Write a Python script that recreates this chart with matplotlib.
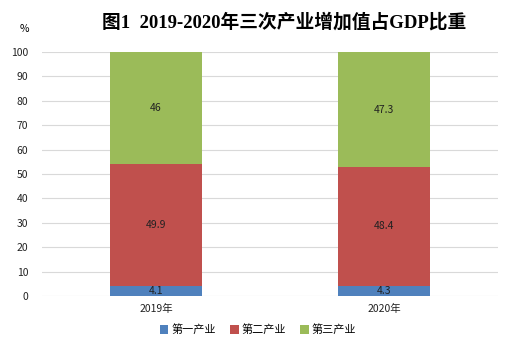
import numpy as np
import matplotlib.pyplot as plt

plt.rcParams['font.family'] = ['Noto Sans CJK SC', 'DejaVu Sans']

years = ["2019年", "2020年"]
primary = [4.1, 4.3]
secondary = [49.9, 48.4]
tertiary = [46, 47.3]
series_names = ["第一产业", "第二产业", "第三产业"]
colors = ["#4F81BD", "#C0504D", "#9BBB59"]

fig = plt.figure(figsize=(5.16, 3.48), dpi=100)
ax = fig.add_axes([0.0814, 0.1494, 0.8836, 0.7012])

x = np.arange(len(years))
bottom = np.zeros(len(years))
for vals, name, c in zip([primary, secondary, tertiary], series_names, colors):
    vals = np.array(vals)
    ax.bar(x, vals, width=0.4, bottom=bottom, color=c, label=name, zorder=2)
    for xi, b, v in zip(x, bottom, vals):
        ax.text(xi, b + v / 2, f"{v:g}", ha="center", va="center",
                fontsize=7.5, color="#222222", zorder=3)
    bottom += vals

ax.set_xlim(-0.5, 1.5)
ax.set_ylim(0, 100)
ax.set_yticks(range(0, 101, 10))
ax.set_xticks(x)
ax.set_xticklabels(years)
ax.yaxis.grid(True, color="#D9D9D9", linewidth=0.8, zorder=0)
ax.tick_params(axis="both", length=0, labelsize=7.5, colors="#222222")
ax.tick_params(axis="y", pad=10)
ax.tick_params(axis="x", pad=6)
for s in ["top", "right", "left", "bottom"]:
    ax.spines[s].set_visible(False)

fig.text(0.55, 0.935, "图1  2019-2020年三次产业增加值占GDP比重",
         ha="center", va="center", fontsize=13.5, fontweight="bold",
         family=['Liberation Serif', 'Noto Sans CJK SC'])
fig.text(0.048, 0.918, "%", ha="center", va="center", fontsize=7.5)

fig.legend(loc="center", bbox_to_anchor=(0.5, 0.052), ncol=3, frameon=False,
           fontsize=8, handlelength=0.8, handleheight=0.8, handletextpad=0.3,
           columnspacing=1.2)

fig.savefig("out.png", dpi=100)
